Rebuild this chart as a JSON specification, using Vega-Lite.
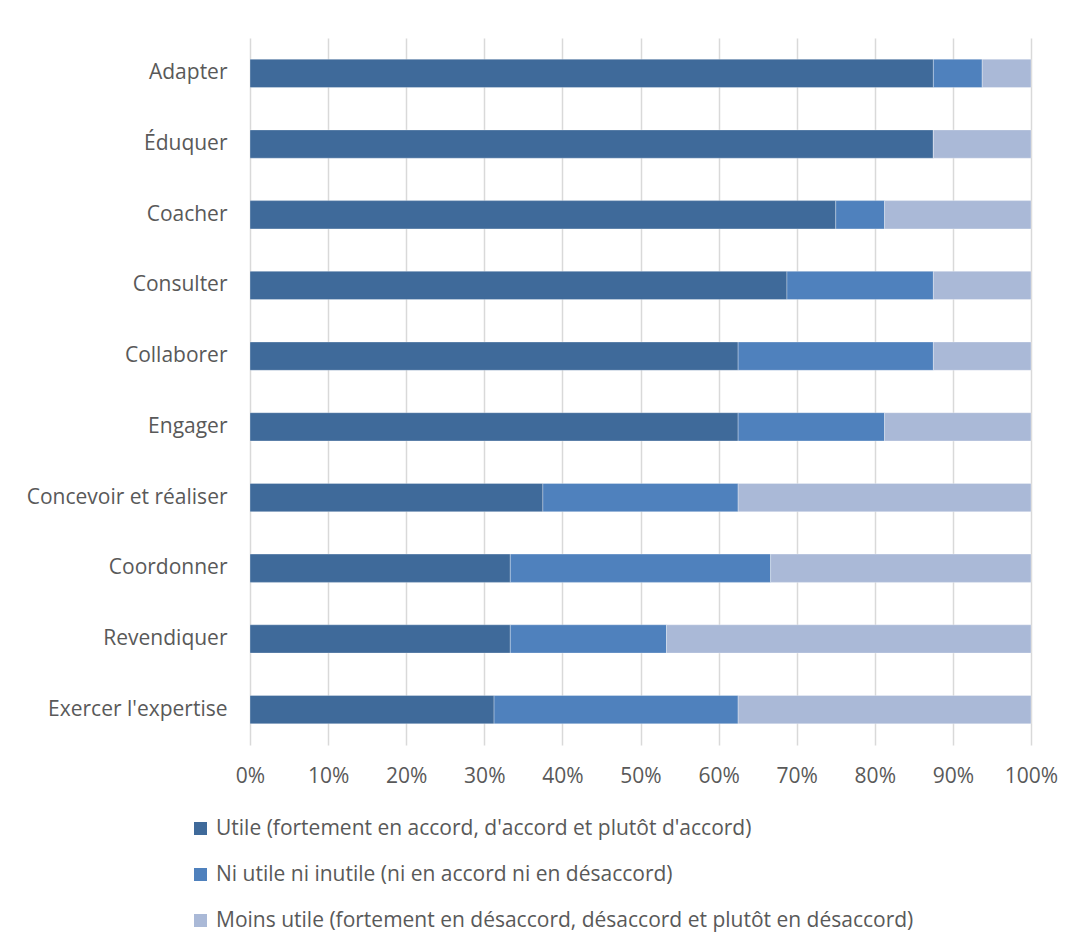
{
  "$schema": "https://vega.github.io/schema/vega-lite/v6.json",
  "autosize": "none",
  "width": 781,
  "height": 707,
  "padding": {"left": 250, "top": 38, "right": 46, "bottom": 202},
  "background": "white",
  "config": {
    "view": {"stroke": null},
    "font": "Open Sans",
    "axis": {"labelFont": "Open Sans", "labelColor": "#595959"},
    "legend": {"labelFont": "Open Sans", "labelColor": "#595959"}
  },
  "data": {
    "values": [
      {"competence": "Adapter", "categorie": "Utile (fortement en accord, d'accord et plutôt d'accord)", "ordre": 1, "valeur": 87.5},
      {"competence": "Adapter", "categorie": "Ni utile ni inutile (ni en accord ni en désaccord)", "ordre": 2, "valeur": 6.25},
      {"competence": "Adapter", "categorie": "Moins utile (fortement en désaccord, désaccord et plutôt en désaccord)", "ordre": 3, "valeur": 6.25},
      {"competence": "Éduquer", "categorie": "Utile (fortement en accord, d'accord et plutôt d'accord)", "ordre": 1, "valeur": 87.5},
      {"competence": "Éduquer", "categorie": "Ni utile ni inutile (ni en accord ni en désaccord)", "ordre": 2, "valeur": 0},
      {"competence": "Éduquer", "categorie": "Moins utile (fortement en désaccord, désaccord et plutôt en désaccord)", "ordre": 3, "valeur": 12.5},
      {"competence": "Coacher", "categorie": "Utile (fortement en accord, d'accord et plutôt d'accord)", "ordre": 1, "valeur": 75},
      {"competence": "Coacher", "categorie": "Ni utile ni inutile (ni en accord ni en désaccord)", "ordre": 2, "valeur": 6.25},
      {"competence": "Coacher", "categorie": "Moins utile (fortement en désaccord, désaccord et plutôt en désaccord)", "ordre": 3, "valeur": 18.75},
      {"competence": "Consulter", "categorie": "Utile (fortement en accord, d'accord et plutôt d'accord)", "ordre": 1, "valeur": 68.75},
      {"competence": "Consulter", "categorie": "Ni utile ni inutile (ni en accord ni en désaccord)", "ordre": 2, "valeur": 18.75},
      {"competence": "Consulter", "categorie": "Moins utile (fortement en désaccord, désaccord et plutôt en désaccord)", "ordre": 3, "valeur": 12.5},
      {"competence": "Collaborer", "categorie": "Utile (fortement en accord, d'accord et plutôt d'accord)", "ordre": 1, "valeur": 62.5},
      {"competence": "Collaborer", "categorie": "Ni utile ni inutile (ni en accord ni en désaccord)", "ordre": 2, "valeur": 25},
      {"competence": "Collaborer", "categorie": "Moins utile (fortement en désaccord, désaccord et plutôt en désaccord)", "ordre": 3, "valeur": 12.5},
      {"competence": "Engager", "categorie": "Utile (fortement en accord, d'accord et plutôt d'accord)", "ordre": 1, "valeur": 62.5},
      {"competence": "Engager", "categorie": "Ni utile ni inutile (ni en accord ni en désaccord)", "ordre": 2, "valeur": 18.75},
      {"competence": "Engager", "categorie": "Moins utile (fortement en désaccord, désaccord et plutôt en désaccord)", "ordre": 3, "valeur": 18.75},
      {"competence": "Concevoir et réaliser", "categorie": "Utile (fortement en accord, d'accord et plutôt d'accord)", "ordre": 1, "valeur": 37.5},
      {"competence": "Concevoir et réaliser", "categorie": "Ni utile ni inutile (ni en accord ni en désaccord)", "ordre": 2, "valeur": 25},
      {"competence": "Concevoir et réaliser", "categorie": "Moins utile (fortement en désaccord, désaccord et plutôt en désaccord)", "ordre": 3, "valeur": 37.5},
      {"competence": "Coordonner", "categorie": "Utile (fortement en accord, d'accord et plutôt d'accord)", "ordre": 1, "valeur": 33.33},
      {"competence": "Coordonner", "categorie": "Ni utile ni inutile (ni en accord ni en désaccord)", "ordre": 2, "valeur": 33.33},
      {"competence": "Coordonner", "categorie": "Moins utile (fortement en désaccord, désaccord et plutôt en désaccord)", "ordre": 3, "valeur": 33.34},
      {"competence": "Revendiquer", "categorie": "Utile (fortement en accord, d'accord et plutôt d'accord)", "ordre": 1, "valeur": 33.33},
      {"competence": "Revendiquer", "categorie": "Ni utile ni inutile (ni en accord ni en désaccord)", "ordre": 2, "valeur": 20},
      {"competence": "Revendiquer", "categorie": "Moins utile (fortement en désaccord, désaccord et plutôt en désaccord)", "ordre": 3, "valeur": 46.67},
      {"competence": "Exercer l'expertise", "categorie": "Utile (fortement en accord, d'accord et plutôt d'accord)", "ordre": 1, "valeur": 31.25},
      {"competence": "Exercer l'expertise", "categorie": "Ni utile ni inutile (ni en accord ni en désaccord)", "ordre": 2, "valeur": 31.25},
      {"competence": "Exercer l'expertise", "categorie": "Moins utile (fortement en désaccord, désaccord et plutôt en désaccord)", "ordre": 3, "valeur": 37.5}
    ]
  },
  "mark": {"type": "bar", "stroke": "white", "strokeWidth": 0.5, "strokeOpacity": 0.6},
  "encoding": {
    "y": {
      "field": "competence",
      "type": "nominal",
      "sort": null,
      "scale": {"paddingInner": 0.6, "paddingOuter": 0.3},
      "axis": {"title": null, "ticks": false, "domain": false, "labelFontSize": 21, "labelPadding": 23, "labelLimit": 300}
    },
    "x": {
      "field": "valeur",
      "type": "quantitative",
      "stack": "normalize",
      "scale": {"domain": [0, 1], "nice": false},
      "axis": {
        "title": null,
        "format": ".0%",
        "values": [0, 0.1, 0.2, 0.3, 0.4, 0.5, 0.6, 0.7, 0.8, 0.9, 1],
        "grid": true,
        "gridColor": "#D9D9D9",
        "gridWidth": 1.5,
        "domain": false,
        "ticks": false,
        "labelFlush": false,
        "labelFontSize": 21,
        "labelPadding": 20
      }
    },
    "color": {
      "field": "categorie",
      "type": "nominal",
      "sort": ["Utile (fortement en accord, d'accord et plutôt d'accord)", "Ni utile ni inutile (ni en accord ni en désaccord)", "Moins utile (fortement en désaccord, désaccord et plutôt en désaccord)"],
      "scale": {
        "domain": ["Utile (fortement en accord, d'accord et plutôt d'accord)", "Ni utile ni inutile (ni en accord ni en désaccord)", "Moins utile (fortement en désaccord, désaccord et plutôt en désaccord)"],
        "range": ["#3F6A9A", "#4F81BD", "#AAB9D7"]
      },
      "legend": {
        "title": null,
        "orient": "none",
        "legendX": -60,
        "legendY": 780,
        "direction": "vertical",
        "symbolType": "square",
        "symbolSize": 170,
        "symbolStrokeWidth": 0,
        "labelFontSize": 21,
        "labelOffset": 5,
        "labelLimit": 900,
        "rowPadding": 24
      }
    },
    "order": {"field": "ordre", "type": "quantitative"}
  }
}
